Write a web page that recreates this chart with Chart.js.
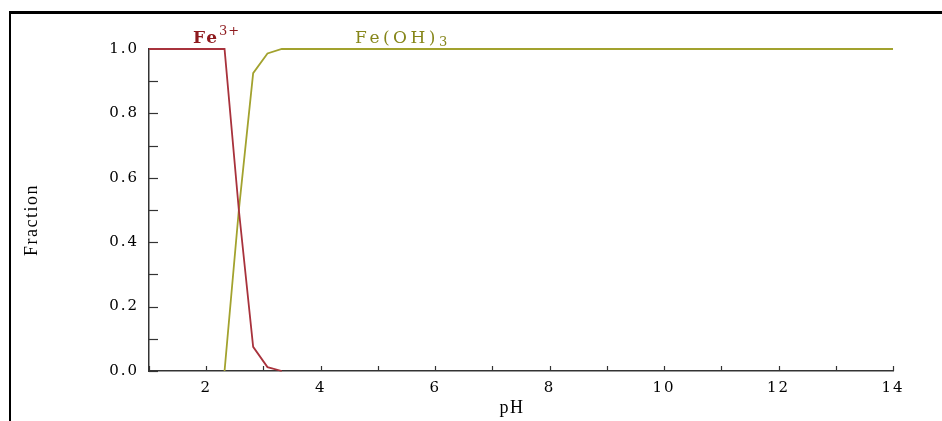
<!DOCTYPE html>
<html>
<head>
<meta charset="utf-8">
<script src="https://cdn.jsdelivr.net/npm/chart.js@4/dist/chart.umd.min.js"></script>
<style>
  html, body { margin:0; padding:0; background:#fff; }
  #wrap { position:relative; width:942px; height:421px; }
  #frame { position:absolute; left:9px; top:11px; right:0; bottom:0; border-left:2px solid #000; border-top:3px solid #000; pointer-events:none; }
</style>
</head>
<body>
<div id="wrap">
  <canvas id="c" width="942" height="421"></canvas>
  <div id="frame"></div>
</div>
<script>
// Data
const phFe3 = [1, 2.32, 2.57, 2.82, 3.07, 3.32];
const fracFe3 = [1, 1, 0.5, 0.075, 0.012, 0];
const phFeOH3 = [2.32, 2.57, 2.82, 3.07, 3.32, 14];
const fracFeOH3 = [0, 0.5, 0.925, 0.986, 1, 1];
const xTicks = [2, 4, 6, 8, 10, 12, 14];
const yTicks = [0.0, 0.2, 0.4, 0.6, 0.8, 1.0];

const RED = '#a8323c';
const OLIVE = '#a2a22e';
const RED_TXT = '#8e1a1e';
const OLIVE_TXT = '#86861a';

const toPts = (xs, ys) => xs.map((x, i) => ({x, y: ys[i]}));

const spacing = {
  id: 'spacing',
  beforeDraw(chart) { chart.ctx.letterSpacing = '2px'; },
  beforeDatasetsDraw(chart) { chart.ctx.letterSpacing = '0px'; }
};

const inwardTicks = {
  id: 'inwardTicks',
  afterDraw(chart) {
    const {ctx, scales: {x, y}} = chart;
    ctx.save();
    ctx.strokeStyle = '#333';
    ctx.lineWidth = 1.2;
    for (let v = 1; v <= 14; v++) {
      const px = Math.round(x.getPixelForValue(v)) + 0.5;
      ctx.beginPath();
      ctx.moveTo(px, y.bottom);
      ctx.lineTo(px, y.bottom - 5);
      ctx.stroke();
    }
    for (let k = 0; k <= 10; k++) {
      const py = Math.round(y.getPixelForValue(k / 10)) + 0.5;
      if (k === 10) continue;
      ctx.beginPath();
      ctx.moveTo(x.left, py);
      ctx.lineTo(x.left + 9, py);
      ctx.stroke();
    }
    ctx.restore();
  }
};

function drawChem(ctx, x, y, parts, color) {
  ctx.save();
  ctx.fillStyle = color;
  ctx.textBaseline = 'alphabetic';
  ctx.textAlign = 'left';
  let cx = x;
  for (const p of parts) {
    ctx.font = p.font;
    ctx.letterSpacing = (p.ls || 0) + 'px';
    ctx.fillText(p.t, cx, y + (p.dy || 0));
    cx += ctx.measureText(p.t).width + (p.gap || 0);
  }
  ctx.restore();
}

const speciesLabels = {
  id: 'speciesLabels',
  afterDraw(chart) {
    const {ctx, scales: {x, y}} = chart;
    const by = y.getPixelForValue(1.0) - 6;
    drawChem(ctx, x.getPixelForValue(1.77), by, [
      {t: 'Fe', font: 'bold 17px "DejaVu Serif"', ls: 2},
      {t: '3+', font: '13px "DejaVu Serif"', dy: -8, ls: 1}
    ], RED_TXT);
    drawChem(ctx, x.getPixelForValue(4.6), by, [
      {t: 'Fe(OH)', font: '17px "DejaVu Serif"', ls: 3.5},
      {t: '3', font: '13px "DejaVu Serif"', dy: 3}
    ], OLIVE_TXT);
    // axis titles
    ctx.save();
    ctx.fillStyle = '#000';
    ctx.textAlign = 'center';
    ctx.textBaseline = 'middle';
    ctx.font = '18px "Liberation Serif"';
    ctx.letterSpacing = '1.5px';
    ctx.fillText('pH', (x.left + x.right) / 2 - 9, 408);
    ctx.translate(32, (y.top + y.bottom) / 2 + 10);
    ctx.rotate(-Math.PI / 2);
    ctx.fillText('Fraction', 0, 0);
    ctx.restore();
  }
};

new Chart(document.getElementById('c'), {
  type: 'line',
  data: {
    datasets: [
      { label: 'Fe3+', data: toPts(phFe3, fracFe3), borderColor: RED, borderWidth: 1.8, pointRadius: 0, tension: 0, fill: false, clip: false },
      { label: 'Fe(OH)3', data: toPts(phFeOH3, fracFeOH3), borderColor: OLIVE, borderWidth: 1.8, pointRadius: 0, tension: 0, fill: false, clip: false }
    ]
  },
  options: {
    responsive: false,
    animation: false,
    events: [],
    layout: { padding: { left: 18, top: 49, right: 49, bottom: 0 } },
    plugins: { legend: { display: false }, tooltip: { enabled: false } },
    scales: {
      x: {
        type: 'linear', min: 1, max: 14,
        afterBuildTicks(s) { s.ticks = xTicks.map(v => ({value: v})); },
        afterFit(s) { s.height = 50; },
        grid: { display: false, drawTicks: false },
        border: { display: true, color: '#333', width: 1.5 },
        ticks: { color: '#000', padding: 8, font: { family: 'DejaVu Serif', size: 15 } },
        title: { display: false }
      },
      y: {
        type: 'linear', min: 0, max: 1,
        afterBuildTicks(s) { s.ticks = yTicks.map(v => ({value: v})); },
        afterFit(s) { s.width = 131; },
        grid: { display: false, drawTicks: false },
        border: { display: true, color: '#333', width: 1.5 },
        ticks: { color: '#000', padding: 10, font: { family: 'DejaVu Serif', size: 15 }, callback: v => v.toFixed(1) },
        title: { display: false }
      }
    }
  },
  plugins: [spacing, inwardTicks, speciesLabels]
});
</script>
</body>
</html>
